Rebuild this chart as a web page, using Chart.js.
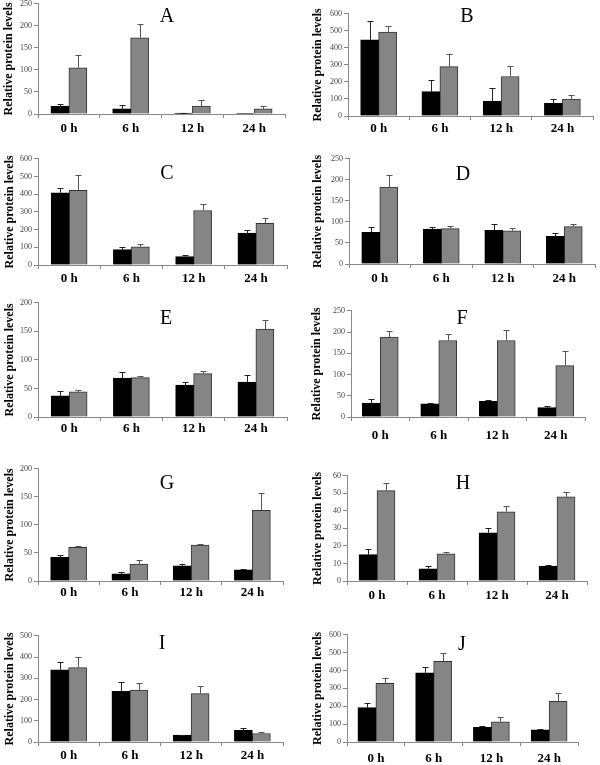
<!DOCTYPE html>
<html>
<head>
<meta charset="utf-8">
<script src="https://cdn.jsdelivr.net/npm/chart.js@4/dist/chart.umd.min.js"></script>
<style>
  html, body { margin: 0; padding: 0; background: #fff; }
  body { width: 600px; height: 765px; position: relative; overflow: hidden; }
  canvas { position: absolute; }
  .letter { position: absolute; font: 20px 'Liberation Serif', 'Times New Roman', serif; color: #000;
            transform: translate(-50%, -50%); line-height: 1; }
</style>
</head>
<body>
<script>
// ======= DATA =======
const categories = ["0 h", "6 h", "12 h", "24 h"];
const panelLetters = ["A", "B", "C", "D", "E", "F", "G", "H", "I", "J"];
const yMax = [250, 600, 600, 250, 200, 250, 200, 60, 500, 600];
const yStep = [50, 100, 100, 50, 50, 50, 50, 10, 100, 100];

const blackA = [18, 12, 2, 1];       const grayA = [105, 173, 18, 12];
const blackErrA = [4, 8, 1, 0];      const grayErrA = [28, 32, 13, 7];
const blackB = [447, 143, 88, 75];   const grayB = [492, 290, 232, 100];
const blackErrB = [113, 67, 77, 22]; const grayErrB = [35, 73, 61, 25];
const blackC = [408, 87, 47, 180];   const grayC = [422, 103, 308, 235];
const blackErrC = [27, 15, 9, 15];   const grayErrC = [86, 14, 37, 30];
const blackD = [75, 83, 80, 66];     const grayD = [183, 84, 79, 89];
const blackErrD = [13, 5, 14, 7];    const grayErrD = [29, 6, 6, 5];
const blackE = [37, 68, 56, 61];     const grayE = [44, 69, 76, 154];
const blackErrE = [8, 10, 6, 13];    const grayErrE = [3, 3, 4, 16];
const blackF = [33, 31, 37, 22];     const grayF = [188, 180, 180, 121];
const blackErrF = [9, 3, 3, 3];      const grayErrF = [15, 15, 25, 35];
const blackG = [42, 13, 27, 20];     const grayG = [60, 30, 64, 126];
const blackErrG = [4, 3, 3, 2];      const grayErrG = [3, 7, 2, 31];
const blackH = [15, 7, 27.5, 8.5];   const grayH = [51.5, 15.5, 39.5, 48];
const blackErrH = [3, 1.5, 3, 0.5];  const grayErrH = [4.5, 1, 3.5, 2.5];
const blackI = [340, 238, 32, 55];   const grayI = [350, 245, 228, 40];
const blackErrI = [38, 45, 3, 10];   const grayErrI = [50, 35, 34, 5];
const blackJ = [192, 387, 82, 68];   const grayJ = [328, 452, 113, 228];
const blackErrJ = [26, 35, 8, 4];    const grayErrJ = [30, 48, 27, 47];

const blackSeries = [blackA, blackB, blackC, blackD, blackE, blackF, blackG, blackH, blackI, blackJ];
const graySeries = [grayA, grayB, grayC, grayD, grayE, grayF, grayG, grayH, grayI, grayJ];
const blackErrors = [blackErrA, blackErrB, blackErrC, blackErrD, blackErrE, blackErrF, blackErrG, blackErrH, blackErrI, blackErrJ];
const grayErrors = [grayErrA, grayErrB, grayErrC, grayErrD, grayErrE, grayErrF, grayErrG, grayErrH, grayErrI, grayErrJ];

// ======= LAYOUT (page pixels) =======
const panels = [
  { col: 0,   axisX: 38,  top: 3,   bottom: 114, right: 285, labelY: 128, titleX: 9,   lx: 167, ly: 15 },
  { col: 300, axisX: 348, top: 13,  bottom: 116, right: 593, labelY: 128, titleX: 318, lx: 467, ly: 15 },
  { col: 0,   axisX: 38,  top: 158, bottom: 265, right: 287, labelY: 278, titleX: 10,  lx: 167, ly: 172 },
  { col: 300, axisX: 349, top: 158, bottom: 264, right: 595, labelY: 278, titleX: 318, lx: 463, ly: 173 },
  { col: 0,   axisX: 38,  top: 302, bottom: 417, right: 287, labelY: 428, titleX: 10,  lx: 166, ly: 317 },
  { col: 300, axisX: 351, top: 310, bottom: 417, right: 585, labelY: 435, titleX: 317, lx: 462, ly: 317 },
  { col: 0,   axisX: 38,  top: 468, bottom: 581, right: 283, labelY: 592, titleX: 10,  lx: 167, ly: 482 },
  { col: 300, axisX: 347, top: 475, bottom: 581, right: 587, labelY: 595, titleX: 318, lx: 463, ly: 482 },
  { col: 0,   axisX: 38,  top: 635, bottom: 742, right: 283, labelY: 755, titleX: 10,  lx: 162, ly: 642 },
  { col: 300, axisX: 347, top: 634, bottom: 742, right: 578, labelY: 758, titleX: 318, lx: 462, ly: 643 }
];

const serif = "'Liberation Serif', 'Times New Roman', serif";

// ======= ERROR BARS =======
const errorBars = {
  id: "errorBars",
  afterDatasetsDraw(chart) {
    const ctx = chart.ctx;
    const y = chart.scales.y;
    chart.data.datasets.forEach((ds, di) => {
      const meta = chart.getDatasetMeta(di);
      meta.data.forEach((bar, i) => {
        const err = ds.errors[i];
        if (!err) return;
        const x = Math.round(bar.x) + 0.5;
        const yTop = Math.round(y.getPixelForValue(ds.data[i] + err)) + 0.5;
        ctx.save();
        ctx.strokeStyle = ds.errorColor;
        ctx.lineWidth = 1;
        ctx.beginPath();
        ctx.moveTo(x, bar.y);
        ctx.lineTo(x, yTop);
        ctx.moveTo(x - 3, yTop);
        ctx.lineTo(x + 3, yTop);
        ctx.stroke();
        ctx.restore();
      });
    });
  }
};

// ======= PANELS =======
panels.forEach((p, k) => {
  const canvas = document.createElement("canvas");
  const cTop = p.top - 6;
  const w = p.right - p.col + 4;
  const h = p.labelY + 9 - cTop;
  canvas.width = w;
  canvas.height = h;
  canvas.style.left = p.col + "px";
  canvas.style.top = cTop + "px";
  canvas.style.width = w + "px";
  canvas.style.height = h + "px";
  document.body.appendChild(canvas);

  const letter = document.createElement("div");
  letter.className = "letter";
  letter.textContent = panelLetters[k];
  letter.style.left = p.lx + "px";
  letter.style.top = p.ly + "px";
  document.body.appendChild(letter);

  new Chart(canvas, {
    type: "bar",
    data: {
      labels: categories,
      datasets: [
        {
          data: blackSeries[k],
          errors: blackErrors[k],
          errorColor: "#222",
          backgroundColor: "#000",
          borderColor: "#000",
          borderWidth: 1,
          barThickness: 18
        },
        {
          data: graySeries[k],
          errors: grayErrors[k],
          errorColor: "#555",
          backgroundColor: "#858585",
          borderColor: "#333",
          borderWidth: 1,
          barThickness: 18
        }
      ]
    },
    options: {
      responsive: false,
      animation: false,
      devicePixelRatio: 1,
      layout: { padding: { left: 0, top: 6, right: 4, bottom: 0 } },
      plugins: { legend: { display: false }, tooltip: { enabled: false } },
      scales: {
        x: {
          offset: true,
          grid: { offset: true, drawOnChartArea: false, drawTicks: true, tickLength: 4, color: "#888" },
          border: { display: true, color: "#888" },
          ticks: {
            color: "#000",
            font: { family: serif, size: 13, weight: "bold" },
            padding: p.labelY - p.bottom - 11,
            maxRotation: 0
          },
          afterFit: s => { s.height = p.labelY + 9 - p.bottom; }
        },
        y: {
          min: 0,
          max: yMax[k],
          grid: { drawOnChartArea: false, drawTicks: true, tickLength: 4, color: "#888" },
          border: { display: true, color: "#888" },
          ticks: {
            stepSize: yStep[k],
            color: "#444",
            font: { family: serif, size: 8 },
            padding: 2
          },
          title: {
            display: true,
            text: "Relative protein levels",
            color: "#000",
            font: { family: serif, size: 12, weight: "bold" },
            padding: { top: Math.max(0, p.titleX - p.col - 7.2), bottom: 0 }
          },
          afterFit: s => { s.width = p.axisX - p.col; }
        }
      }
    },
    plugins: [errorBars]
  });
});
</script>
</body>
</html>
